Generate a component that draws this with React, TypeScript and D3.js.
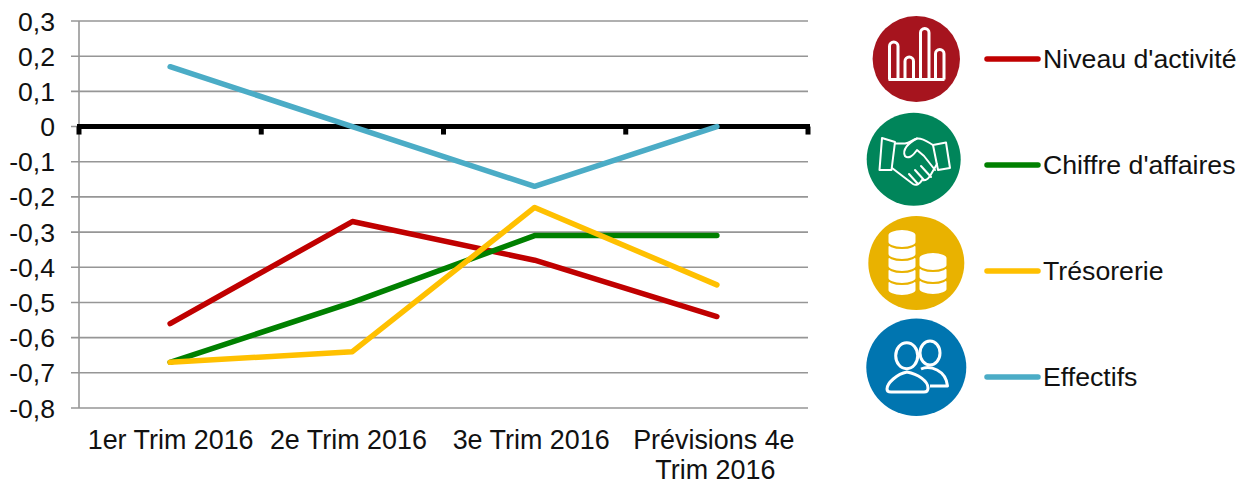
import * as d3 from "d3";
import { useEffect, useRef } from "react";

const categories = ["1er Trim 2016", "2e Trim 2016", "3e Trim 2016", "Prévisions 4e|Trim 2016"];
const yTicks = [0.3, 0.2, 0.1, 0, -0.1, -0.2, -0.3, -0.4, -0.5, -0.6, -0.7, -0.8];

const niveauActivite = [-0.56, -0.27, -0.38, -0.54];
const chiffreAffaires = [-0.67, -0.5, -0.31, -0.31];
const tresorerie = [-0.67, -0.64, -0.23, -0.45];
const effectifs = [0.17, 0, -0.17, 0];

const seriesNames = ["Niveau d'activité", "Chiffre d'affaires", "Trésorerie", "Effectifs"];
const seriesValues = [niveauActivite, chiffreAffaires, tresorerie, effectifs];
const seriesColors = ["#C00000", "#008000", "#FFC000", "#4BACC6"];

const FONT = "'Liberation Sans', Arial, sans-serif";
const GRID = "#969696";
const TEXT = "#111";

const App = () => {
  const svgRef = useRef<SVGSVGElement>(null);

  useEffect(() => {
    const dims = { width: 1247, height: 482, left: 79, right: 808, top: 21, bottom: 408 };
    const root = d3.select(svgRef.current);
    root.selectAll("*").remove();

    const x = d3.scaleBand<string>().domain(categories).range([dims.left, dims.right]);
    const y = d3.scaleLinear().domain([-0.8, 0.3]).range([dims.bottom, dims.top]);

    // grid lines + y labels
    const yAxis = root.append("g");
    yTicks.forEach((t) => {
      yAxis.append("line")
        .attr("x1", 71).attr("x2", dims.right)
        .attr("y1", y(t)).attr("y2", y(t))
        .attr("stroke", GRID).attr("stroke-width", 1.6);
      yAxis.append("text")
        .attr("x", 55).attr("y", y(t) + 9.5)
        .attr("text-anchor", "end")
        .attr("font-size", 26.6).attr("font-family", FONT).attr("fill", TEXT)
        .text(String(t).replace(".", ","));
    });
    yAxis.append("line")
      .attr("x1", dims.left).attr("x2", dims.left)
      .attr("y1", dims.top).attr("y2", dims.bottom)
      .attr("stroke", GRID).attr("stroke-width", 1.6);

    // zero line with ticks
    const zero = root.append("g");
    zero.append("line")
      .attr("x1", dims.left - 2).attr("x2", dims.right + 2)
      .attr("y1", y(0)).attr("y2", y(0))
      .attr("stroke", "#000").attr("stroke-width", 5);
    [...categories.map((c) => x(c)!), dims.right].forEach((px) => {
      zero.append("line")
        .attr("x1", px).attr("x2", px)
        .attr("y1", y(0)).attr("y2", y(0) + 8)
        .attr("stroke", "#000").attr("stroke-width", 5);
    });

    // category labels, the source chart centres them a bit off the band
    const labelNudge = [0.5, -4, -3.5, -3];
    categories.forEach((c, n) => {
      const cx = x(c)! + x.bandwidth() / 2 + labelNudge[n];
      c.split("|").forEach((part, i) => {
        root.append("text")
          .attr("x", cx + i * 1.5)
          .attr("y", 449 + i * 30)
          .attr("text-anchor", "middle")
          .attr("font-size", 26.9).attr("font-family", FONT).attr("fill", TEXT)
          .text(part);
      });
    });

    // series
    const line = d3.line<number>()
      .x((_, i) => x(categories[i])! + x.bandwidth() / 2)
      .y((d) => y(d));
    seriesValues.forEach((vals, i) => {
      root.append("path")
        .attr("d", line(vals))
        .attr("fill", "none")
        .attr("stroke", seriesColors[i])
        .attr("stroke-width", 5.5)
        .attr("stroke-linecap", "round")
        .attr("stroke-linejoin", "round");
    });

    // legend
    const legendY = [59, 165, 271, 377];
    seriesNames.forEach((name, i) => {
      root.append("line")
        .attr("x1", 987).attr("x2", 1038)
        .attr("y1", legendY[i]).attr("y2", legendY[i])
        .attr("stroke", seriesColors[i]).attr("stroke-width", 5.5)
        .attr("stroke-linecap", "round");
      root.append("text")
        .attr("x", 1043).attr("y", legendY[i] + 8.5)
        .attr("font-size", 26.7).attr("font-family", FONT).attr("fill", TEXT)
        .text(name);
    });

    // icon discs
    const discs = [
      { cx: 916.3, cy: 59, rx: 43.7, ry: 43, fill: "#A6141E" },
      { cx: 913.7, cy: 159.2, rx: 47, ry: 46.5, fill: "#00855A" },
      { cx: 916.3, cy: 263, rx: 48, ry: 47, fill: "#E9B200" },
      { cx: 916.3, cy: 367.3, rx: 50, ry: 48.7, fill: "#0075B0" },
    ];
    discs.forEach((d) => {
      root.append("ellipse")
        .attr("cx", d.cx).attr("cy", d.cy).attr("rx", d.rx).attr("ry", d.ry).attr("fill", d.fill);
    });
    const icons = root.append("g").attr("fill", "none").attr("stroke", "#fff").attr("stroke-linejoin", "round");

    // bars icon
    const bars = icons.append("g").attr("stroke-width", 3);
    bars.append("path").attr("d", "M888.5 79.5 H944.5");
    [[889.5, 42], [905, 57], [920.5, 28.5], [935.5, 49.5]].forEach(([bx, top]) => {
      bars.append("path").attr("d", `M${bx} 79.5 V${top + 4.25} a4.25 4.25 0 0 1 8.5 0 V79.5`);
    });

    // handshake icon
    const hands = icons.append("g").attr("stroke-width", 2).attr("stroke-linecap", "round");
    hands.append("path").attr("d", "M882 138 L895 142 L891.5 170 L879.5 170 Z");
    hands.append("path").attr("d", "M933 145 L946 142.5 L950 168 L938 170 Z");
    hands.append("path").attr("d", "M895 143.5 L905 143.5 C910 143 913 139 917 138.5 C924 138 929 143 933 145 M937 164 L930 176 C928 179 925 181 922 180 C920 184 916 186 913 184 L892 168");
    hands.append("path").attr("d", "M917 138.5 C908 143 902 150 905 156 C908 159 912 157 917 150 L924 156 L935 170");
    hands.append("path").attr("d", "M921 166 L931 177 M915 170 L924 180 M909 174 L918 184");

    // coins icon
    const coins = icons.append("g");
    const stack = (cx: number, top: number, n: number, rx: number) => {
      for (let k = n - 1; k >= 0; k--) {
        const cy = top + k * 12;
        coins.append("path")
          .attr("d", `M${cx - rx} ${cy} V${cy + 7} A${rx} 6 0 0 0 ${cx + rx} ${cy + 7} V${cy} A${rx} 6 0 0 0 ${cx - rx} ${cy} Z`)
          .attr("fill", "#fff").attr("stroke", "#E9B200").attr("stroke-width", 2);
      }
    };
    stack(902, 235, 5, 14.5);
    stack(933, 258, 3, 14.5);

    // people icon
    const people = icons.append("g").attr("stroke-width", 3);
    people.append("ellipse").attr("cx", 930).attr("cy", 353).attr("rx", 10).attr("ry", 12);
    people.append("path").attr("d", "M921 369 C930 365 946 370 947.5 386 L930 386");
    people.append("path").attr("d", "M907 372 C897 374 887 383 887 389 C887 391 888 392 891 392 H924 C927 392 928 390 928 388 C928 381 918 374 907 372 Z").attr("fill", "#0075B0");
    people.append("ellipse").attr("cx", 906.7).attr("cy", 355.7).attr("rx", 11).attr("ry", 13).attr("fill", "#0075B0");
  }, []);

  return (
    <svg ref={svgRef} width={1247} height={482} style={{ position: "absolute", left: 0, top: 0, background: "#fff" }} />
  );
};

export default App;
